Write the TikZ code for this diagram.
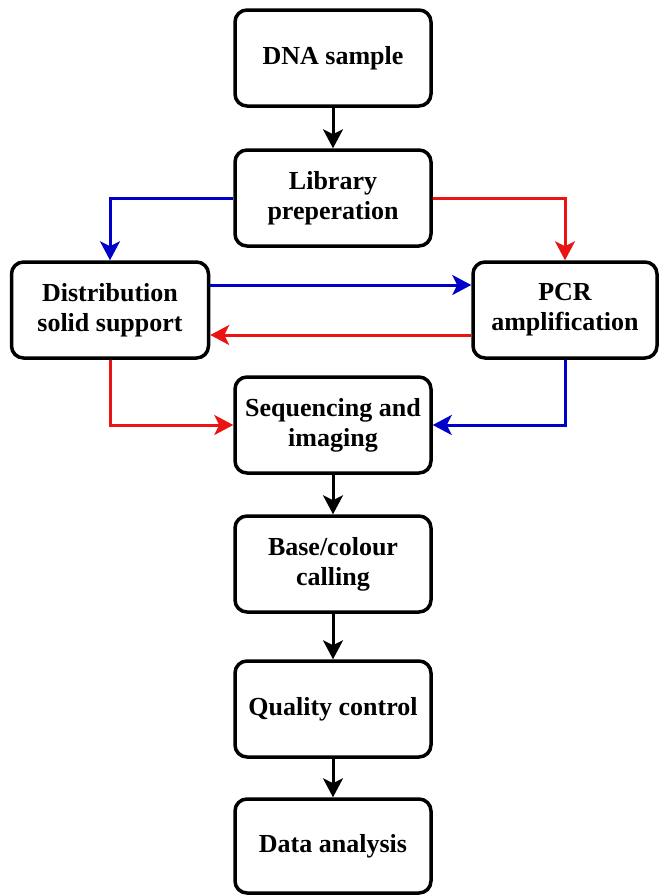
\documentclass[tikz,border=0pt]{standalone}
\usepackage{fontspec}
\setmainfont{Liberation Serif}
\usetikzlibrary{arrows.meta}
\definecolor{lineblue}{RGB}{0,0,200}
\definecolor{linered}{RGB}{235,20,20}
\tikzset{
  box/.style={draw, line width=3.5pt, rounded corners=12pt, minimum width=196pt,
    minimum height=96pt, align=center, inner sep=2pt,
    font=\fontsize{26}{30}\selectfont\bfseries},
  flow/.style={line width=3pt, -{Stealth[length=19pt,width=20pt,inset=5pt]}}
}
\begin{document}
\begin{tikzpicture}[x=1pt,y=-1pt]
\useasboundingbox (0,0) rectangle (659,895);
\node[box] (dna) at (333,58) {DNA sample};
\node[box] (lib) at (333,198) {Library\\preperation};
\node[box,minimum width=197pt] (dist) at (110,310) {Distribution\\solid support};
\node[box,minimum width=184pt] (pcr) at (565,310) {PCR\\amplification};
\node[box] (seq) at (333,425) {Sequencing and\\imaging};
\node[box] (base) at (333,564) {Base/colour\\calling};
\node[box] (qc) at (333,709) {Quality control};
\node[box,minimum height=94pt] (data) at (333,846) {Data analysis};
\coordinate (dl) at (dist.north |- lib.west);
\coordinate (pr) at (pcr.north |- lib.east);
\coordinate (ds) at (dist.south |- seq.west);
\coordinate (ps) at (pcr.south |- seq.east);
\draw[flow] (dna) -- (lib);
\draw[flow,lineblue] (lib.west) -- (dl) -- (dist.north);
\draw[flow,linered] (lib.east) -- (pr) -- (pcr.north);
%PCRとの往復
\draw[flow,lineblue] ([yshift=25pt]dist.east) -- ([yshift=25pt]pcr.west);
\draw[flow,linered] ([yshift=-25pt]pcr.west) -- ([yshift=-25pt]dist.east);
\draw[flow,linered] (dist.south) -- (ds) -- (seq.west);
\draw[flow,lineblue] (pcr.south) -- (ps) -- (seq.east);
\draw[flow] (seq) -- (base);
\draw[flow] (base) -- (qc);
\draw[flow] (qc) -- (data);
\end{tikzpicture}
\end{document}
